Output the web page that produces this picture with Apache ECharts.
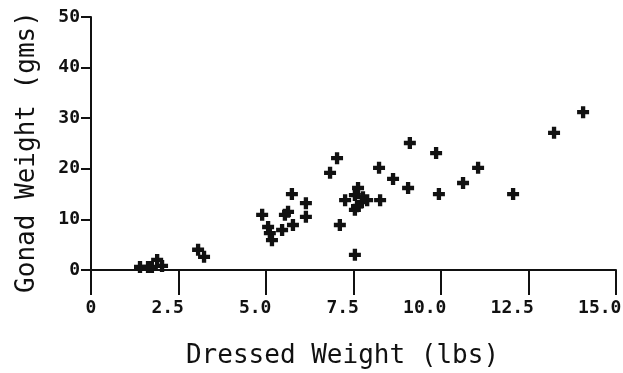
<!DOCTYPE html>
<html>
<head>
<meta charset="utf-8">
<script src="https://cdn.jsdelivr.net/npm/echarts@6/dist/echarts.min.js"></script>
<style>
  html, body { margin: 0; padding: 0; background: #fff; }
  #chart { width: 623px; height: 373px; }
</style>
</head>
<body>
<div id="chart"></div>
<script>
// Dressed weight (lbs) and gonad weight (gms) per fish
const dressedWeight = [
  1.40, 1.63, 1.74, 1.89, 2.03,
  3.06, 3.23,
  4.89, 5.74, 5.63, 5.54, 5.46, 5.77, 6.14, 6.14, 5.06, 5.11, 5.17,
  7.03, 6.83, 7.63, 7.26, 7.54, 7.77, 7.89, 8.26, 7.54, 7.74, 7.60, 7.11, 7.54,
  8.23, 8.63, 9.06, 9.11, 9.86, 9.94, 10.63, 11.06, 12.06, 13.23, 14.06
];
const gonadWeight = [
  0.6, 0.6, 0.6, 2.0, 0.8,
  4.0, 2.6,
  10.9, 15.0, 11.5, 10.9, 7.9, 8.9, 13.2, 10.5, 8.5, 7.3, 5.9,
  22.1, 19.2, 16.2, 13.8, 14.8, 14.4, 13.8, 13.8, 11.9, 13.4, 12.6, 8.9, 3.0,
  20.2, 18.0, 16.2, 25.1, 23.1, 15.0, 17.2, 20.2, 15.0, 27.1, 31.2
];

const xTickLabels = ['0', '2.5', '5.0', '7.5', '10.0', '12.5', '15.0'];
const yTickLabels = ['0', '10', '20', '30', '40', '50'];

const points = dressedWeight.map((x, i) => [x, gonadWeight[i]]);

const ink = '#111';
const mono = '"DejaVu Sans Mono", "Liberation Mono", monospace';
const plus = 'path://M3.2,0H6.8V3.2H10V6.8H6.8V10H3.2V6.8H0V3.2H3.2Z';

const chart = echarts.init(document.getElementById('chart'), null, { renderer: 'canvas' });
chart.setOption({
  backgroundColor: '#fff',
  animation: false,
  grid: { left: 91, right: 7, top: 17, bottom: 103, containLabel: false, outerBoundsMode: 'none' },
  xAxis: {
    type: 'value',
    min: 0, max: 15, interval: 2.5,
    axisLine: { lineStyle: { color: ink, width: 2 } },
    axisTick: { inside: false, length: 25, lineStyle: { color: ink, width: 2 } },
    splitLine: { show: false },
    axisLabel: {
      margin: 29,
      color: ink,
      fontFamily: mono,
      fontWeight: 'bold',
      fontSize: 18,
      // last digit sits under the tick
      formatter: (v) => {
        const s = xTickLabels[Math.round(v / 2.5)] || '';
        return s + ' '.repeat(Math.max(0, s.length - 1));
      }
    },
    name: 'Dressed Weight (lbs)',
    nameLocation: 'middle',
    nameGap: 73,
    nameTextStyle: { color: ink, fontFamily: mono, fontSize: 26, padding: [0, 22, 0, 0] }
  },
  yAxis: {
    type: 'value',
    min: 0, max: 50, interval: 10,
    axisLine: { lineStyle: { color: ink, width: 2 } },
    axisTick: { inside: false, length: 10, lineStyle: { color: ink, width: 2 } },
    splitLine: { show: false },
    axisLabel: {
      margin: 11,
      color: ink,
      fontFamily: mono,
      fontWeight: 'bold',
      fontSize: 18,
      formatter: (v) => yTickLabels[Math.round(v / 10)] || ''
    },
    name: 'Gonad Weight (gms)',
    nameLocation: 'middle',
    nameGap: 51,
    nameTextStyle: { color: ink, fontFamily: mono, fontSize: 26, padding: [0, 17, 0, 0] }
  },
  series: [{
    type: 'scatter',
    data: points,
    symbol: plus,
    symbolSize: 12,
    itemStyle: { color: ink, opacity: 1 }
  }]
});
</script>
</body>
</html>
